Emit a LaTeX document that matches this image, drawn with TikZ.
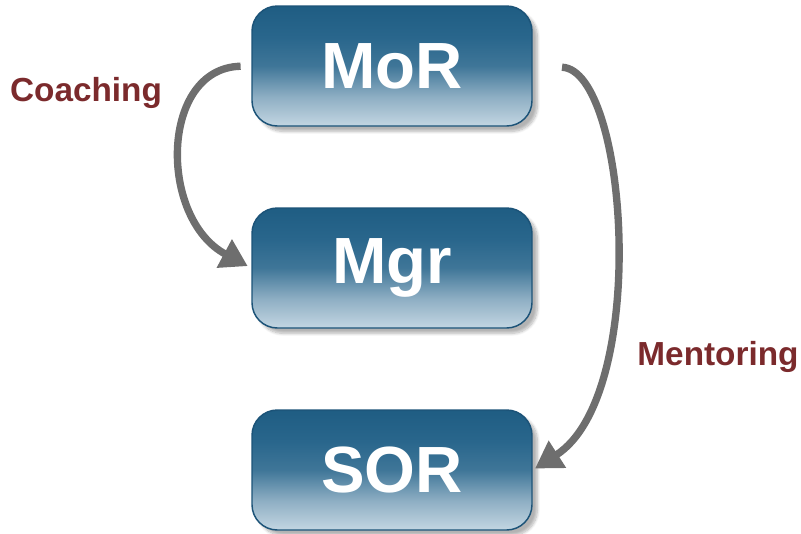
\documentclass[tikz,border=0pt]{standalone}
\usepackage{fontspec}
\setmainfont{Liberation Sans}
\usetikzlibrary{arrows.meta,shadows.blur}
\definecolor{boxtop}{HTML}{1F5D83}
\definecolor{boxup}{HTML}{29668C}
\definecolor{boxmid}{HTML}{3F7698}
\definecolor{boxlow}{HTML}{8FAFC4}
\definecolor{boxbot}{HTML}{C3D6E2}
\definecolor{boxline}{HTML}{1C5378}
\definecolor{arrgray}{HTML}{6E6E6E}
\definecolor{lblred}{HTML}{7B2A2C}
\pgfdeclareverticalshading{boxshade}{100bp}{color(0bp)=(boxbot); color(25bp)=(boxbot); color(37bp)=(boxlow); color(50bp)=(boxmid); color(62bp)=(boxup); color(75bp)=(boxtop); color(100bp)=(boxtop)}
\tikzset{
  rolebox/.style={draw=boxline, line width=1.1pt, rounded corners=19pt,
    minimum width=210pt, minimum height=90pt, shading=boxshade,
    text=white, font=\bfseries\fontsize{49}{52}\selectfont,
    blur shadow={shadow xshift=4pt, shadow yshift=-4pt, shadow blur steps=8, shadow opacity=30}},
  relarrow/.style={draw=arrgray, line width=5.5pt,
    -{Triangle[length=20pt,width=23pt]}},
  rellabel/.style={text=lblred, font=\bfseries\fontsize{25}{28}\selectfont}
}
\begin{document}
\begin{tikzpicture}[x=0.75pt,y=-0.75pt]
\useasboundingbox (0,0) rectangle (801,533);
\node[rolebox] (mor) at (392,66) {MoR};
\node[rolebox] (mgr) at (392,268) {Mgr};
\node[rolebox] (sor) at (392,470) {SOR};
\draw[relarrow, shorten <=8pt, shorten >=3pt] (mor.west) .. controls (160,68) and (158,218) .. (mgr.west);
\draw[relarrow, shorten <=22pt, shorten >=2pt] (mor.east) .. controls (628,70) and (650,395) .. (sor.east);
\node[rellabel] (coach) at (86,93) {Coaching};
\node[rellabel] (ment) at (718,357) {Mentoring};
\end{tikzpicture}
\end{document}
